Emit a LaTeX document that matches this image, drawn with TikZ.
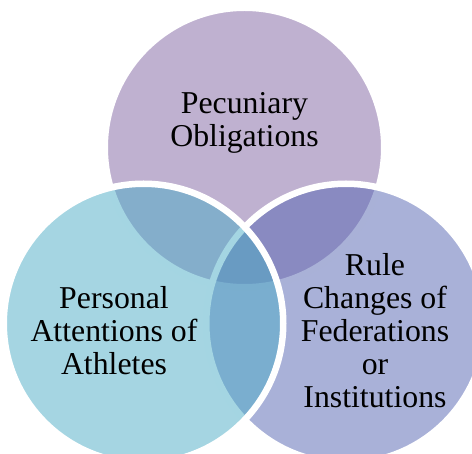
\documentclass[tikz,border=0pt]{standalone}
\usepackage{fontspec}
\setmainfont{Liberation Serif}
\definecolor{topc}{HTML}{8064A2}
\definecolor{leftc}{HTML}{4BACC6}
\definecolor{rightc}{HTML}{5464B1}
\begin{document}
\begin{tikzpicture}[x=1pt,y=-1pt,
  venn/.style={circle, minimum size=279.5pt, inner sep=0pt, draw=white, line width=6.5pt, fill opacity=0.5, draw opacity=1},
  lbl/.style={align=center, font=\fontsize{31.8}{33}\selectfont, anchor=base, inner sep=0pt}]
\useasboundingbox (0,0) rectangle (472,454);
\clip (0,0) rectangle (472,454);
\node[venn, fill=topc] (top) at (244.5,147.5) {};
\node[venn, fill=rightc] (right) at (346,323.5) {};
\node[venn, fill=leftc] (left) at (143.5,323.5) {};
\node[lbl] (toplbl) at (244.5,147) {Pecuniary\\Obligations};
\node[lbl] (leftlbl) at (114,374.5) {Personal\\Attentions of\\Athletes};
\node[lbl] (rightlbl) at (375,408) {Rule\\Changes of\\Federations\\or\\Institutions};
\end{tikzpicture}
\end{document}
